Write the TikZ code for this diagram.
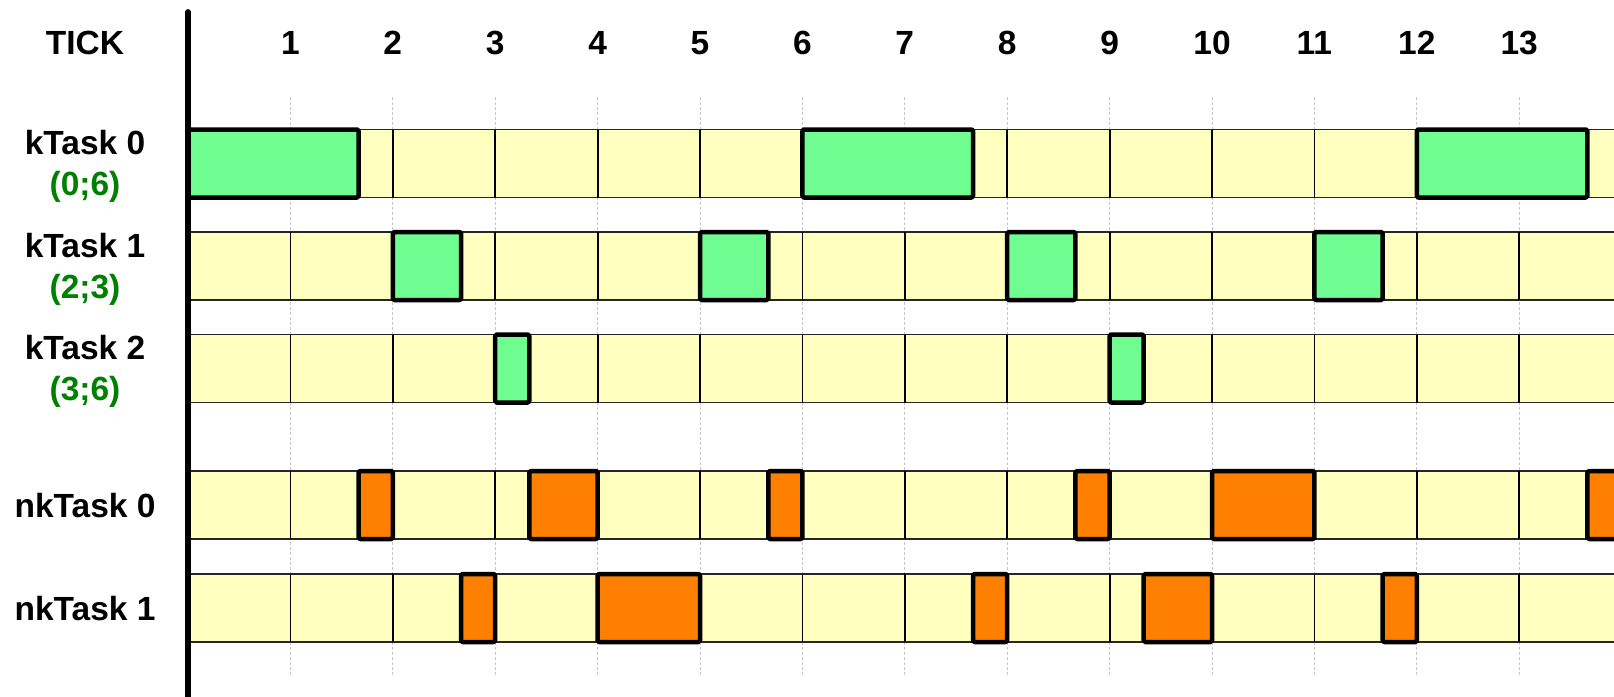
\documentclass[tikz,border=0pt]{standalone}
\usepackage{fontspec}
\setmainfont{Liberation Sans}
\definecolor{barY}{RGB}{255,255,192}
\definecolor{runG}{RGB}{111,253,145}
\definecolor{runO}{RGB}{255,128,0}
\definecolor{lblG}{RGB}{0,128,0}
\newcommand\TX[1]{188+102.4*#1}
\begin{document}
\begin{tikzpicture}[x=1pt,y=-1pt,
  lbl/.style={font=\fontsize{33.5}{40}\selectfont\bfseries, anchor=base, inner sep=0pt},
  sub/.style={lbl, text=lblG},
  grid/.style={gray!45, line width=1pt, dash pattern=on 3pt off 2pt},
  rowedge/.style={black!85, line width=1.8pt},
  cellline/.style={black, line width=1.8pt},
  busy/.style={draw=black, line width=4.5pt, rounded corners=1.5pt, line join=round},
  axis/.style={black, line width=5.8pt, line cap=round}
]
\useasboundingbox (0,0) rectangle (1614,696);

% header
\node[lbl] (tick) at (85,54) {TICK};
\foreach \k in {1,...,13}
  \node[lbl] (n\k) at ({\TX{\k}},54) {\k};

% dotted grid lines
\foreach \k in {1,...,13}
  \draw[grid] ({\TX{\k}},97) -- ({\TX{\k}},677);

% rows (top y)
\foreach \t in {129.5,232,334.5,471,574}{
  \fill[barY] (188,\t) rectangle (1614,\t+68);
  \draw[rowedge] (188,\t) -- (1614,\t);
  \draw[rowedge] (188,\t+68) -- (1614,\t+68);
  \foreach \k in {1,...,13}
    \draw[cellline] ({\TX{\k}},\t) -- ({\TX{\k}},\t+68);
}

% kTask 0
\foreach \a/\b in {0/1.6667, 6/7.6667, 12/13.6667}
  \draw[busy, fill=runG] ({\TX{\a}},129.5) rectangle ({\TX{\b}},197.5);
% kTask 1
\foreach \a/\b in {2/2.6667, 5/5.6667, 8/8.6667, 11/11.6667}
  \draw[busy, fill=runG] ({\TX{\a}},232) rectangle ({\TX{\b}},300);
% kTask 2
\foreach \a/\b in {3/3.3333, 9/9.3333}
  \draw[busy, fill=runG] ({\TX{\a}},334.5) rectangle ({\TX{\b}},402.5);
% nkTask 0
\foreach \a/\b in {1.6667/2, 3.3333/4, 5.6667/6, 8.6667/9, 10/11, 13.6667/14.3}
  \draw[busy, fill=runO] ({\TX{\a}},471) rectangle ({\TX{\b}},539);
% nkTask 1
\foreach \a/\b in {2.6667/3, 4/5, 7.6667/8, 9.3333/10, 11.6667/12}
  \draw[busy, fill=runO] ({\TX{\a}},574) rectangle ({\TX{\b}},642);

% axis
\draw[axis] (188,12) -- (188,700);

% row labels
\node[lbl] (k0) at (85,154) {kTask 0};
\node[sub] (k0p) at (85,195) {(0;6)};
\node[lbl] (k1) at (85,257) {kTask 1};
\node[sub] (k1p) at (85,298) {(2;3)};
\node[lbl] (k2) at (85,359) {kTask 2};
\node[sub] (k2p) at (85,400) {(3;6)};
\node[lbl] (nk0) at (85,517) {nkTask 0};
\node[lbl] (nk1) at (85,620) {nkTask 1};
\end{tikzpicture}
\end{document}
